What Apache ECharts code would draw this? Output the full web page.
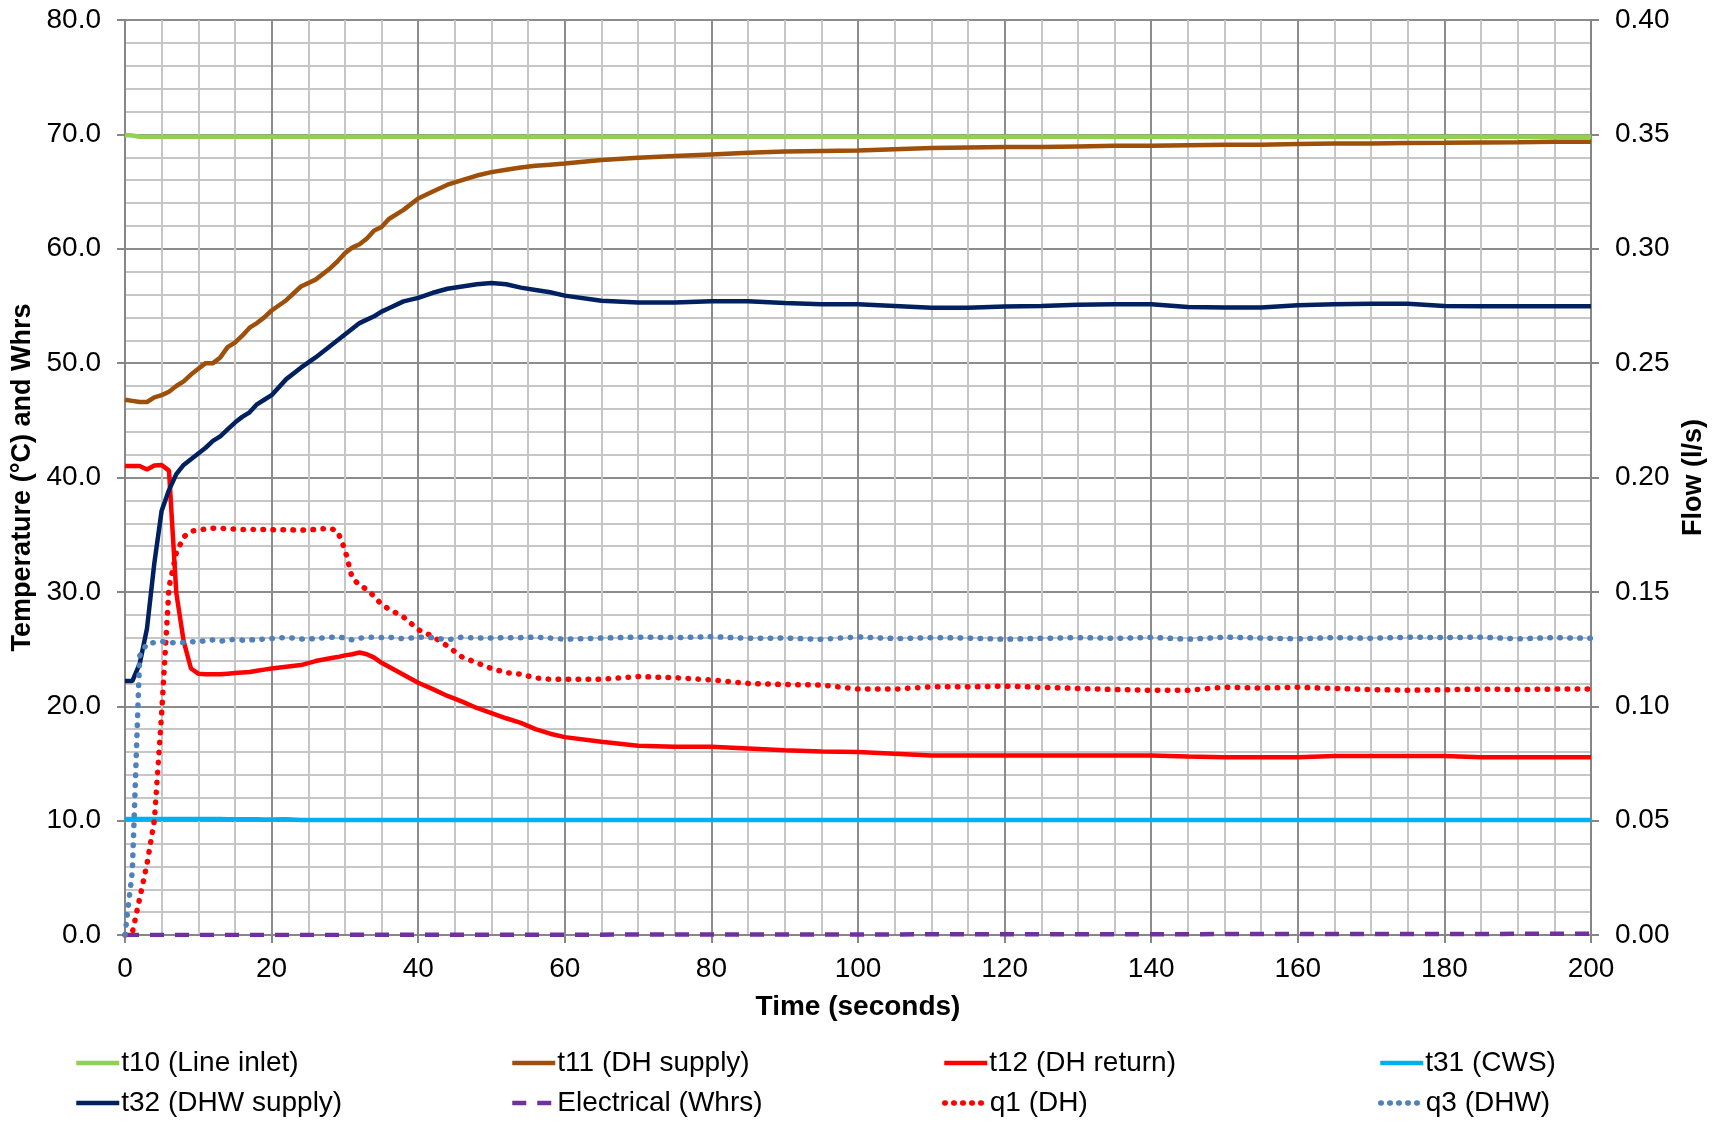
<!DOCTYPE html>
<html>
<head>
<meta charset="utf-8">
<script src="https://cdn.jsdelivr.net/npm/echarts@6/dist/echarts.min.js"></script>
<style>
html,body{margin:0;padding:0;background:#fff;}
#chart{width:1717px;height:1121px;}
</style>
</head>
<body>
<div id="chart"></div>
<script>
// Time (seconds)
const time = [0,1,2,3,4,5,6,7,8,9,10,11,12,13,14,15,16,17,18,19,20,22,24,26,28,29,30,31,32,33,34,35,36,38,40,42,44,46,48,50,52,54,56,58,60,65,70,75,80,85,90,95,100,105,110,115,120,125,130,135,140,145,150,155,160,165,170,175,180,185,190,195,200];

// Temperatures (°C) and Whrs - left axis
const t10 = [69.95,69.9,69.8,69.8,69.8,69.8,69.8,69.8,69.8,69.8,69.8,69.8,69.8,69.8,69.8,69.8,69.8,69.8,69.8,69.8,69.8,69.8,69.8,69.8,69.8,69.8,69.8,69.8,69.8,69.8,69.8,69.8,69.8,69.8,69.8,69.8,69.8,69.8,69.8,69.8,69.8,69.8,69.8,69.8,69.8,69.8,69.8,69.8,69.8,69.8,69.8,69.8,69.8,69.8,69.8,69.8,69.8,69.8,69.8,69.8,69.8,69.8,69.8,69.8,69.8,69.8,69.8,69.8,69.8,69.8,69.8,69.8,69.8];
const t11 = [46.8,46.7,46.6,46.6,47.0,47.2,47.5,48.0,48.4,49.0,49.5,50.0,50.0,50.5,51.4,51.8,52.4,53.1,53.5,54.0,54.6,55.5,56.7,57.3,58.3,58.9,59.6,60.1,60.4,60.9,61.6,61.9,62.6,63.4,64.4,65.0,65.6,66.0,66.4,66.7,66.9,67.1,67.25,67.35,67.45,67.75,67.95,68.1,68.25,68.4,68.5,68.55,68.6,68.7,68.8,68.85,68.9,68.9,68.95,69.0,69.0,69.05,69.1,69.1,69.15,69.2,69.2,69.25,69.27,69.3,69.32,69.35,69.36];
const t12 = [41.0,41.0,41.0,40.7,41.05,41.1,40.6,29.9,25.7,23.3,22.85,22.8,22.8,22.8,22.85,22.9,22.95,23.0,23.1,23.2,23.3,23.45,23.6,23.95,24.2,24.3,24.45,24.55,24.7,24.55,24.25,23.8,23.45,22.75,22.05,21.5,20.9,20.4,19.85,19.4,18.95,18.55,18.0,17.6,17.3,16.9,16.55,16.45,16.45,16.3,16.15,16.05,16.0,15.85,15.7,15.7,15.7,15.7,15.7,15.7,15.7,15.6,15.55,15.55,15.55,15.65,15.65,15.65,15.65,15.55,15.55,15.55,15.55];
const t31 = [10.15,10.15,10.15,10.15,10.15,10.15,10.15,10.15,10.15,10.15,10.15,10.15,10.15,10.15,10.13,10.13,10.13,10.12,10.12,10.1,10.1,10.12,10.05,10.05,10.05,10.05,10.05,10.05,10.05,10.05,10.05,10.05,10.05,10.05,10.05,10.05,10.05,10.05,10.05,10.05,10.05,10.05,10.05,10.05,10.05,10.05,10.05,10.05,10.05,10.05,10.05,10.05,10.05,10.05,10.05,10.05,10.05,10.05,10.05,10.05,10.05,10.05,10.05,10.05,10.05,10.05,10.05,10.05,10.05,10.05,10.05,10.05,10.05];
const t32 = [22.2,22.2,23.7,26.8,32.5,37.1,38.9,40.3,41.1,41.6,42.1,42.6,43.2,43.6,44.2,44.8,45.3,45.7,46.4,46.8,47.2,48.6,49.6,50.5,51.5,52.0,52.5,53.0,53.5,53.8,54.1,54.5,54.8,55.4,55.7,56.15,56.5,56.7,56.9,57.0,56.9,56.6,56.4,56.2,55.9,55.45,55.3,55.3,55.4,55.4,55.25,55.15,55.15,55.0,54.85,54.85,54.95,55.0,55.1,55.15,55.15,54.9,54.87,54.87,55.05,55.15,55.2,55.2,55.0,54.98,54.98,54.98,54.98];
const electrical = [0,0,0,0,0,0,0,0,0,0,0,0,0,0,0,0,0,0,0,0,0.01,0.01,0.01,0.01,0.01,0.01,0.01,0.02,0.02,0.02,0.02,0.02,0.02,0.02,0.02,0.02,0.02,0.02,0.03,0.03,0.03,0.03,0.03,0.03,0.03,0.03,0.04,0.04,0.04,0.04,0.05,0.05,0.05,0.05,0.06,0.06,0.06,0.06,0.07,0.07,0.07,0.07,0.08,0.08,0.08,0.08,0.09,0.09,0.09,0.09,0.1,0.1,0.1];

// Flow (l/s) - right axis
const q1 = [0,0.001,0.016,0.031,0.050,0.097,0.152,0.167,0.174,0.1765,0.177,0.1775,0.1778,0.1778,0.1776,0.1774,0.1772,0.1774,0.1772,0.1773,0.1772,0.1772,0.1770,0.1773,0.1778,0.1765,0.1685,0.156,0.153,0.151,0.148,0.1445,0.1425,0.139,0.1335,0.1305,0.1263,0.1215,0.119,0.1165,0.1147,0.114,0.1124,0.1118,0.1118,0.1118,0.113,0.1125,0.1115,0.110,0.1095,0.1093,0.1075,0.1075,0.1085,0.1085,0.1088,0.1083,0.1078,0.1073,0.107,0.107,0.1083,0.108,0.1083,0.1078,0.1073,0.107,0.1072,0.1075,0.1073,0.1075,0.1075];
const q3 = [0,0.028,0.122,0.1275,0.1278,0.1283,0.128,0.1276,0.1279,0.1283,0.128,0.1288,0.129,0.1284,0.129,0.1292,0.1289,0.129,0.1291,0.1294,0.1296,0.1301,0.1294,0.1296,0.1302,0.1301,0.1300,0.1290,0.1298,0.1300,0.1302,0.1300,0.1302,0.1295,0.1302,0.1300,0.1290,0.1302,0.1298,0.1298,0.1300,0.1300,0.1302,0.1298,0.1293,0.1298,0.1302,0.1300,0.1304,0.1297,0.1298,0.1293,0.1303,0.1296,0.1300,0.1298,0.1293,0.1297,0.1300,0.1297,0.1301,0.1293,0.1302,0.1298,0.1295,0.1300,0.1297,0.1302,0.1300,0.1302,0.1295,0.1300,0.1297];

// Axis ticks
const xTicks = [0,20,40,60,80,100,120,140,160,180,200];
const yLeftTicks = [0,10,20,30,40,50,60,70,80];
const yRightTicks = [0,0.05,0.10,0.15,0.20,0.25,0.30,0.35,0.40];

const FONT = 'Liberation Sans, Arial, sans-serif';
const pair = arr => time.map((t, i) => [t, arr[i]]);

const seriesDefs = [
  {name: 't10 (Line inlet)', data: t10, color: '#92D050', type: 'solid', axis: 0, width: 4.5},
  {name: 't11 (DH supply)', data: t11, color: '#9E4F0A', type: 'solid', axis: 0, width: 4.5},
  {name: 't12 (DH return)', data: t12, color: '#FF0000', type: 'solid', axis: 0, width: 4.5},
  {name: 't31 (CWS)', data: t31, color: '#00B0F0', type: 'solid', axis: 0, width: 4.5},
  {name: 't32 (DHW supply)', data: t32, color: '#002060', type: 'solid', axis: 0, width: 4.5},
  {name: 'Electrical (Whrs)', data: electrical, color: '#7030A0', type: [14, 11], axis: 0, width: 4.5},
  {name: 'q1 (DH)', data: q1, color: '#FF0000', type: [0.5, 9.5], axis: 1, width: 5.5},
  {name: 'q3 (DHW)', data: q3, color: '#4F81BD', type: [0.5, 9.5], axis: 1, width: 5.5}
];

const legendLefts = [74, 510, 942, 1378];
const legendTops = [1049, 1089];

const isDot = s => Array.isArray(s.type) && s.type[0] < 1;

const legends = seriesDefs.map((s, i) => ({
  data: [s.name],
  left: legendLefts[i % 4],
  top: legendTops[Math.floor(i / 4)],
  itemWidth: 43,
  itemHeight: 14,
  itemGap: 0,
  padding: 0,
  selectedMode: false,
  itemStyle: {opacity: 0, borderWidth: 0},
  lineStyle: {width: s.width, type: isDot(s) ? [0.5, 8.5] : s.type, cap: isDot(s) ? 'round' : 'butt', color: s.color},
  textStyle: {fontSize: 28, color: '#000', fontFamily: FONT, padding: [0, 0, 0, -3]}
}));

const option = {
  animation: false,
  backgroundColor: '#fff',
  grid: {left: 125, right: 126, top: 20, bottom: 186, containLabel: false, outerBoundsMode: 'none'},
  legend: legends,
  xAxis: {
    type: 'value', min: 0, max: 200, interval: 20,
    name: 'Time (seconds)', nameLocation: 'middle', nameGap: 58,
    nameTextStyle: {fontSize: 28, fontWeight: 'bold', color: '#000', fontFamily: FONT},
    axisLine: {show: true, lineStyle: {color: '#868686', width: 2}},
    axisTick: {show: true, length: 8, lineStyle: {color: '#868686', width: 2}},
    minorTick: {show: false, splitNumber: 4},
    axisLabel: {fontSize: 28, color: '#000', fontFamily: FONT, margin: 20,
      formatter: v => xTicks.includes(v) ? String(v) : ''},
    splitLine: {show: true, lineStyle: {color: '#8C8C8C', width: 2}},
    minorSplitLine: {show: true, lineStyle: {color: '#C6C6C6', width: 2}}
  },
  yAxis: [
    {
      type: 'value', min: 0, max: 80, interval: 10, position: 'left',
      name: 'Temperature (°C) and Whrs', nameLocation: 'middle', nameGap: 84, nameRotate: 90,
      nameTextStyle: {fontSize: 27, fontWeight: 'bold', color: '#000', fontFamily: FONT},
      axisLine: {show: true, lineStyle: {color: '#868686', width: 2}},
      axisTick: {show: true, length: 8, lineStyle: {color: '#868686', width: 2}},
      minorTick: {show: false, splitNumber: 5},
      axisLabel: {fontSize: 28, color: '#000', fontFamily: FONT, margin: 24,
        formatter: v => yLeftTicks.includes(v) ? v.toFixed(1) : ''},
      splitLine: {show: true, lineStyle: {color: '#8C8C8C', width: 2}},
      minorSplitLine: {show: true, lineStyle: {color: '#C6C6C6', width: 2}}
    },
    {
      type: 'value', min: 0, max: 0.4, interval: 0.05, position: 'right',
      name: 'Flow (l/s)', nameLocation: 'middle', nameGap: 89, nameRotate: 90,
      nameTextStyle: {fontSize: 27, fontWeight: 'bold', color: '#000', fontFamily: FONT},
      axisLine: {show: true, lineStyle: {color: '#868686', width: 2}},
      axisTick: {show: true, length: 8, lineStyle: {color: '#868686', width: 2}},
      axisLabel: {fontSize: 28, color: '#000', fontFamily: FONT, margin: 24,
        formatter: v => v.toFixed(2)},
      splitLine: {show: false}
    }
  ],
  series: seriesDefs.map(s => ({
    name: s.name,
    type: 'line',
    yAxisIndex: s.axis,
    data: pair(s.data),
    symbol: 'none',
    smooth: false,
    color: s.color,
    lineStyle: {color: s.color, width: s.width, type: s.type, cap: isDot(s) ? 'round' : 'butt'},
    emphasis: {disabled: true}
  }))
};

const chart = echarts.init(document.getElementById('chart'), null, {renderer: 'canvas'});
chart.setOption(option);
</script>
</body>
</html>
